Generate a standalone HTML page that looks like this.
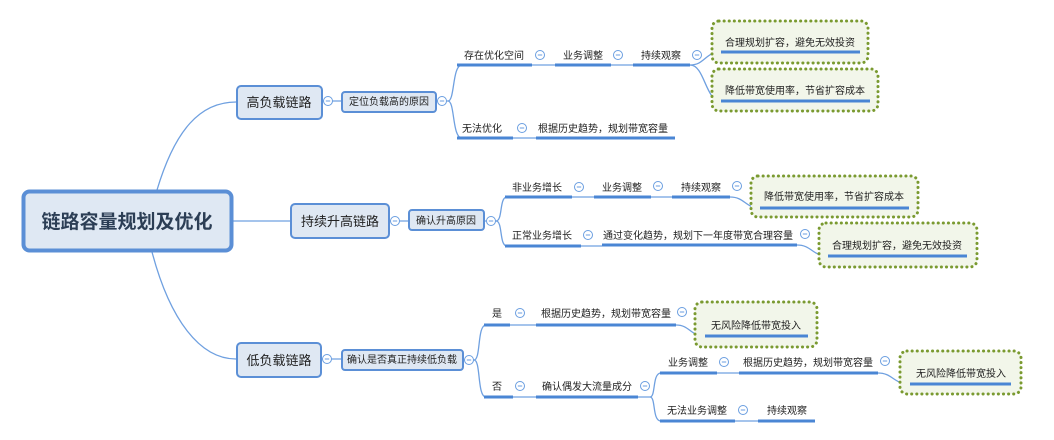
<!DOCTYPE html>
<html><head><meta charset="utf-8"><style>
html,body{margin:0;padding:0;background:#fff;}
svg{display:block;}
text{font-family:"Liberation Sans","Noto Sans CJK SC",sans-serif;fill:#222;}
</style></head><body>
<svg width="1054" height="440" viewBox="0 0 1054 440" xmlns="http://www.w3.org/2000/svg">
<defs>
<g id="c"><circle r="4.5" fill="#fff" stroke="#6a9ee0" stroke-width="1"/><line x1="-2.2" y1="0" x2="2.2" y2="0" stroke="#6a9ee0" stroke-width="1"/></g>
</defs>
<g fill="none" stroke="#6fa0e0" stroke-width="1.3">
<!-- root -->
<path d="M157 190 C175 130 200 102 236 102"/>
<path d="M152 252 C170 320 200 359 236 359"/>
<path d="M233 221 L290 221"/>
<!-- top -->
<path d="M322 101 L341 101"/><path d="M436 101 L448 101 C455 101 452 65 462 65 L457 65"/>
<path d="M448 101 C455 101 452 138 462 138"/>
<path d="M532 65 L555 65 M611 65 L633 65"/>
<path d="M690 65 C705 65 705 52 721 52"/><path d="M690 65 C705 65 705 101 721 101"/>
<path d="M513 138 L536 138"/>
<!-- mid -->
<path d="M389 221 L408 221"/>
<path d="M484 221 L496 221 C503 221 499 197 507 197"/><path d="M496 221 C503 221 499 246 507 246"/>
<path d="M572 197 L594 197 M651 197 L672 197"/>
<path d="M730 197 C745 197 745 208 760 208"/>
<path d="M581 246 L602 246"/>
<path d="M797 245 C812 245 812 256 828 256"/>
<!-- bottom -->
<path d="M321 359 L341 359"/>
<path d="M463 360 L474 360 C481 360 477 325 486 325"/><path d="M474 360 C481 360 477 397 486 397"/>
<path d="M510 325 L536 325"/>
<path d="M676 325 C690 325 690 336 705 336"/>
<path d="M513 397 L536 397"/>
<path d="M638 397 L650 397 C656 397 652 373 661 373"/><path d="M650 397 C656 397 652 421 661 421"/>
<path d="M717 373 L739 373"/>
<path d="M878 373 C893 373 893 384 910 384"/>
<path d="M735 421 L758 421"/>
</g>
<!-- dotted boxes -->
<g fill="#f2f6ea" stroke="#7a9a30" stroke-width="3" stroke-dasharray="0.1 5" stroke-linecap="round">
<rect x="712" y="21" width="156" height="42" rx="7"/>
<rect x="712" y="69" width="166" height="42" rx="7"/>
<rect x="751" y="176" width="167" height="41" rx="7"/>
<rect x="819" y="223" width="158" height="44" rx="7"/>
<rect x="695" y="302" width="122" height="45" rx="7"/>
<rect x="900" y="351" width="121" height="43" rx="7"/>
</g>
<!-- underlines -->
<g stroke="#4a86d4" stroke-width="3">
<line x1="457" y1="65" x2="532" y2="65"/><line x1="555" y1="65" x2="611" y2="65"/><line x1="633" y1="65" x2="690" y2="65"/>
<line x1="721" y1="52" x2="860" y2="52"/><line x1="721" y1="101" x2="870" y2="101"/>
<line x1="457" y1="138" x2="513" y2="138"/><line x1="536" y1="138" x2="675" y2="138"/>
<line x1="505" y1="197" x2="572" y2="197"/><line x1="594" y1="197" x2="651" y2="197"/><line x1="672" y1="197" x2="730" y2="197"/>
<line x1="760" y1="208" x2="909" y2="208"/>
<line x1="505" y1="246" x2="581" y2="246"/><line x1="602" y1="245" x2="797" y2="245"/>
<line x1="828" y1="256" x2="967" y2="256"/>
<line x1="484" y1="325" x2="510" y2="325"/><line x1="536" y1="325" x2="676" y2="325"/>
<line x1="705" y1="336" x2="808" y2="336"/>
<line x1="484" y1="397" x2="513" y2="397"/><line x1="536" y1="397" x2="638" y2="397"/>
<line x1="660" y1="373" x2="717" y2="373"/><line x1="739" y1="373" x2="878" y2="373"/>
<line x1="910" y1="384" x2="1011" y2="384"/>
<line x1="660" y1="421" x2="735" y2="421"/><line x1="758" y1="421" x2="815" y2="421"/>
</g>
<!-- boxes -->
<rect x="23.5" y="191.5" width="208" height="59" rx="6" fill="#dfe8f3" stroke="#5b8fd6" stroke-width="4"/>
<g fill="#dfe8f3" stroke="#5b8fd6" stroke-width="2">
<rect x="237" y="86" width="85" height="33" rx="4"/>
<rect x="291" y="204" width="98" height="34" rx="4"/>
<rect x="237" y="343" width="84" height="34" rx="4"/>
<rect x="342" y="92" width="94" height="20" rx="3"/>
<rect x="409" y="210" width="75" height="20" rx="3"/>
<rect x="342" y="350" width="121" height="20" rx="3"/>
</g>
<!-- circles -->
<use href="#c" x="328" y="101"/><use href="#c" x="442" y="101"/>
<use href="#c" x="540" y="55"/><use href="#c" x="618" y="55"/><use href="#c" x="697" y="55"/>
<use href="#c" x="522" y="128"/>
<use href="#c" x="395" y="221"/><use href="#c" x="491" y="221"/>
<use href="#c" x="579" y="187"/><use href="#c" x="658" y="186"/><use href="#c" x="737" y="186"/>
<use href="#c" x="588" y="235"/><use href="#c" x="805" y="234"/>
<use href="#c" x="327" y="359"/><use href="#c" x="469" y="360"/>
<use href="#c" x="520" y="313"/><use href="#c" x="682" y="312"/>
<use href="#c" x="520" y="386"/><use href="#c" x="645" y="386"/>
<use href="#c" x="724" y="362"/><use href="#c" x="885" y="361"/>
<use href="#c" x="743" y="410"/>
<!-- text -->
<text x="127" y="228" font-size="19" font-weight="bold" text-anchor="middle" fill="#2c3e55" style="fill:#2c3e55">链路容量规划及优化</text>
<g font-size="13" text-anchor="middle">
<text x="279" y="107">高负载链路</text>
<text x="340" y="226">持续升高链路</text>
<text x="279" y="365">低负载链路</text>
</g>
<g font-size="10" text-anchor="middle">
<text x="389" y="105">定位负载高的原因</text>
<text x="446" y="224">确认升高原因</text>
<text x="402" y="363">确认是否真正持续低负载</text>
<text x="494" y="59">存在优化空间</text>
<text x="583" y="59">业务调整</text>
<text x="661" y="59">持续观察</text>
<text x="790" y="46">合理规划扩容，避免无效投资</text>
<text x="795" y="94">降低带宽使用率，节省扩容成本</text>
<text x="482" y="132">无法优化</text>
<text x="603" y="132">根据历史趋势，规划带宽容量</text>
<text x="537" y="191">非业务增长</text>
<text x="622" y="191">业务调整</text>
<text x="701" y="191">持续观察</text>
<text x="834" y="200">降低带宽使用率，节省扩容成本</text>
<text x="542" y="239">正常业务增长</text>
<text x="698" y="239">通过变化趋势，规划下一年度带宽合理容量</text>
<text x="897" y="249">合理规划扩容，避免无效投资</text>
<text x="497" y="317">是</text>
<text x="606" y="317">根据历史趋势，规划带宽容量</text>
<text x="756" y="329">无风险降低带宽投入</text>
<text x="497" y="390">否</text>
<text x="587" y="390">确认偶发大流量成分</text>
<text x="688" y="366">业务调整</text>
<text x="808" y="366">根据历史趋势，规划带宽容量</text>
<text x="961" y="377">无风险降低带宽投入</text>
<text x="697" y="414">无法业务调整</text>
<text x="787" y="414">持续观察</text>
</g>
</svg>
</body></html>
